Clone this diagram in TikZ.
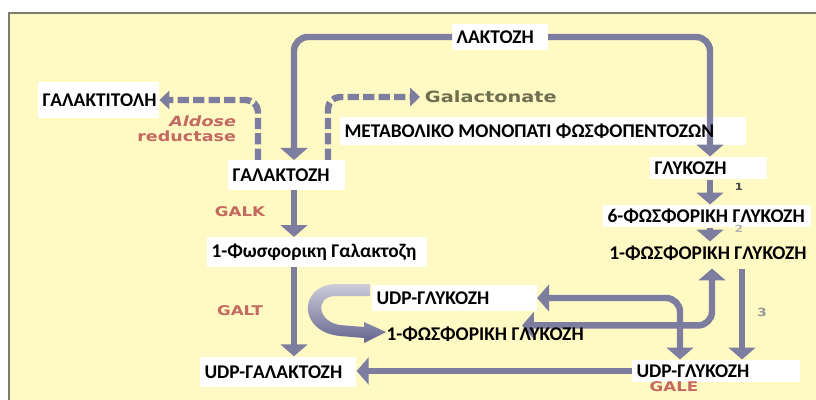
\documentclass[tikz,border=0pt]{standalone}
\usepackage{fontspec}
\setmainfont{Carlito}
\newfontfamily\enzfont[FakeStretch=1.25]{DejaVu Sans}
\usetikzlibrary{arrows.meta,calc,positioning,backgrounds}

\definecolor{bgyellow}{RGB}{255,249,196}
\definecolor{framegray}{RGB}{125,125,105}
\definecolor{flowgray}{RGB}{125,125,160}
\definecolor{enzred}{RGB}{195,105,95}
\definecolor{olivetext}{RGB}{110,110,80}
\definecolor{ribbonlight}{RGB}{205,205,218}
\definecolor{ribbondark}{RGB}{100,100,142}

\tikzset{
  sugar/.style={font=\bfseries\fontsize{13.8}{16}\selectfont, inner xsep=3pt, inner ysep=0pt},
  wbox/.style={sugar, fill=white, anchor=west},
  enz/.style={font=\enzfont\bfseries\fontsize{9.5}{11}\selectfont, text=enzred},
  stepnum/.style={font=\enzfont\bfseries\fontsize{7}{8}\selectfont},
  flow/.style={draw=flowgray, line width=4.6pt, rounded corners=0.35cm,
    -{Triangle[width=19pt,length=8.5pt]}},
  both/.style={{Triangle[width=19pt,length=8.5pt]}-{Triangle[width=19pt,length=8.5pt]}},
  dflow/.style={draw=flowgray, line width=4.6pt, dash pattern=on 8pt off 3pt,
    rounded corners=0.3cm, -{Triangle[width=13pt,length=7pt]}}
}

\begin{document}
\begin{tikzpicture}[x=0.025cm, y=-0.025cm]
  \useasboundingbox (0,0) rectangle (816,400);
  \clip (0,0) rectangle (816,400);
  \begin{scope}[on background layer]
    \fill[white] (0,0) rectangle (816,400);
    \draw[framegray, line width=1.6pt, fill=bgyellow] (9,13) rectangle (840,420);
  \end{scope}

  % columns of the main arrows
  \coordinate (colL) at (294,0);
  \coordinate (colR) at (710,0);

  % sugars
  \node[wbox, minimum height=19pt] (lac) at (452,37) {\makebox[62pt][l]{ΛΑΚΤΟΖΗ}};
  \node[wbox, minimum height=26pt] (galtol) at (38,100) {\makebox[80pt][l]{ΓΑΛΑΚΤΙΤΟΛΗ}};
  \node[wbox, minimum height=21pt] (gal) at (228,175) {\makebox[77pt][l]{ΓΑΛΑΚΤΟΖΗ}};
  \node[sugar, anchor=west, minimum height=19pt] (metab) at (340,131) {\makebox[282pt][l]{ΜΕΤΑΒΟΛΙΚΟ ΜΟΝΟΠΑΤΙ ΦΩΣΦΟΠΕΝΤΟΖΩΝ}};
  \node[wbox, minimum height=16pt] (glu) at (650,168) {\makebox[77pt][l]{ΓΛΥΚΟΖΗ}};
  \node[wbox, minimum height=16pt] (g6p) at (603,216) {\makebox[142pt][l]{6-ΦΩΣΦΟΡΙΚΗ ΓΛΥΚΟΖΗ}};
  \node[sugar, minimum height=16pt] (g1p) at (708,253) {1-ΦΩΣΦΟΡΙΚΗ ΓΛΥΚΟΖΗ};
  \node[wbox, minimum height=21pt] (gal1p) at (207,252) {\makebox[150pt][l]{1-Φωσφορικη Γαλακτοζη}};
  \node[wbox, minimum height=18pt] (udpglc) at (372,298) {\makebox[111pt][l]{UDP-ΓΛΥΚΟΖΗ}};
  \node[sugar, anchor=west, minimum height=16pt] (g1pm) at (382,334) {1-ΦΩΣΦΟΡΙΚΗ ΓΛΥΚΟΖΗ};
  \node[wbox, minimum height=22pt] (udpgal) at (200,372) {\makebox[105pt][l]{UDP-ΓΑΛΑΚΤΟΖΗ}};
  \node[wbox, minimum height=16pt] (udpglc2) at (632,371) {\makebox[113pt][l]{UDP-ΓΛΥΚΟΖΗ}};
  \node[anchor=west, font=\enzfont\bfseries\fontsize{11}{13}\selectfont, text=olivetext] (galact) at (420,97) {Galactonate};

  % enzymes
  \node[enz] (galk) at (240,212) {GALK};
  \node[enz] (galt) at (240,311) {GALT};
  \node[enz] (gale) at (674,387) {GALE};
  \node[enz, anchor=east, align=right, font=\enzfont\bfseries\fontsize{10}{10.5}\selectfont] (aldose) at (241,129) {\textit{Aldose}\\reductase};
  \node[stepnum, text=black!70] (n1) at (739,187) {1};
  \node[stepnum, text=gray!60] (n2) at (739,229) {2};
  \node[stepnum, text=gray!80, font=\enzfont\bfseries\fontsize{8}{9}\selectfont] (n3) at (762,312) {3};

  % UDP-glucose ribbon
  \shade[top color=ribbonlight, bottom color=ribbondark]
    (370,284) -- (335,284) .. controls (298,286) and (298,332) .. (340,336)
    -- (364,338) -- (364,343) -- (386,332) -- (364,322) -- (364,327)
    -- (340,325) .. controls (318,322) and (314,297) .. (335,296) -- (370,296) -- cycle;

  % pathways (lines under some texts go on the background layer)
  \begin{scope}[on background layer]
    \fill[white] (metab.south west) rectangle (metab.north east);
    \draw[flow] (lac.east) -| (colR |- glu.north);
    \draw[flow, both] ($(g1pm.north west)+(140,3)$) -| ($(g1p.south)+(4,4)$);
  \end{scope}
  \draw[flow] (lac.west) -| (colL |- gal.north);
  \draw[flow] (colL |- gal.south) -- (colL |- gal1p.north);
  \draw[flow] (colL |- gal1p.south) -- (colL |- udpgal.north);
  \draw[flow] (colR |- glu.south) -- (colR |- g6p.north);
  \draw[flow] (colR |- g6p.south) -- (colR |- g1p.north);
  \draw[flow, both] (udpglc.east) -| ($(udpglc2.north west)+(48,0)$);
  \draw[flow] ($(g1p.south)+(34,4)$) -- ($(udpglc2.north west)+(110,0)$);
  \draw[flow] (udpglc2.west) -- (udpgal.east |- udpglc2.west);
  \draw[dflow] ($(gal.north west)+(30,0)$) |- (galtol.east);
  \draw[dflow] ($(gal.north west)+(100,0)$) |- (galact.west);
\end{tikzpicture}
\end{document}
